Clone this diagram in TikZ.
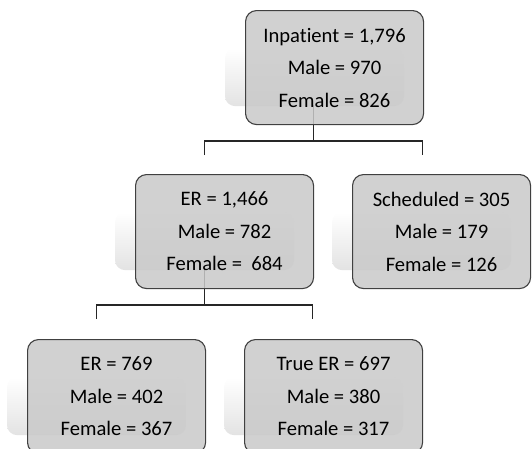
\documentclass[tikz,border=0pt]{standalone}
\usepackage{fontspec}
\setmainfont[Ligatures=NoCommon]{Carlito}
\usetikzlibrary{positioning}
\usetikzlibrary{backgrounds}

\tikzset{
  countbox/.style={draw=gray!50!black, line width=1.1pt, fill=gray!42, fill opacity=0.85,
    text opacity=1, rounded corners=11pt, minimum width=178pt, minimum height=114pt,
    anchor=north west, align=center, inner sep=0pt, font=\fontsize{20.6}{32.5}\selectfont},
  reflect/.style={top color=white, bottom color=gray!22, rounded corners=10pt},
  link/.style={draw=gray!30!black, line width=1.3pt},
}

\begin{document}
\begin{tikzpicture}[x=1pt, y=-1pt]
  \useasboundingbox (0,0) rectangle (532,448);
  \clip (0,0) rectangle (532,448);

  % patient counts
  \node[countbox] (inpat) at (245,10) {Inpat\kern0pt ient = 1,796\\Male = 970\\Female = 826};
  \node[countbox] (er) at (135,174) {ER = 1,466\\Male = 782\\Female = \ 684};
  \node[countbox] (sched) at (352,174) {Scheduled = 305\\Male = 179\\Female = 126};
  \node[countbox] (erlow) at (27,339) {ER = 769\\Male = 402\\Female = 367};
  \node[countbox] (trueer) at (244,339) {True ER = 697\\Male = 380\\Female = 317};

  \coordinate (split1) at ([xshift=-21pt, yshift=-16pt]inpat.south);
  \coordinate (split2) at ([xshift=-20pt, yshift=-16pt]er.south);

  \begin{scope}[on background layer]
    % reflections behind the boxes
    \foreach \n in {inpat, er, sched, erlow, trueer}
      \shade[reflect] ([xshift=-20pt, yshift=-38pt]\n.north west) rectangle ([xshift=-20pt, yshift=19pt]\n.south east);

    \draw[link] ([xshift=-21pt, yshift=20pt]inpat.south) -- (split1);
    \draw[link] ([xshift=-20pt, yshift=19pt]er.north) |- (split1) -| ([xshift=-19pt, yshift=19pt]sched.north);
    \draw[link] ([xshift=-20pt, yshift=20pt]er.south) -- (split2);
    \draw[link] ([xshift=-20pt, yshift=20pt]erlow.north) |- (split2) -| ([xshift=-21pt, yshift=20pt]trueer.north);
  \end{scope}
\end{tikzpicture}
\end{document}
